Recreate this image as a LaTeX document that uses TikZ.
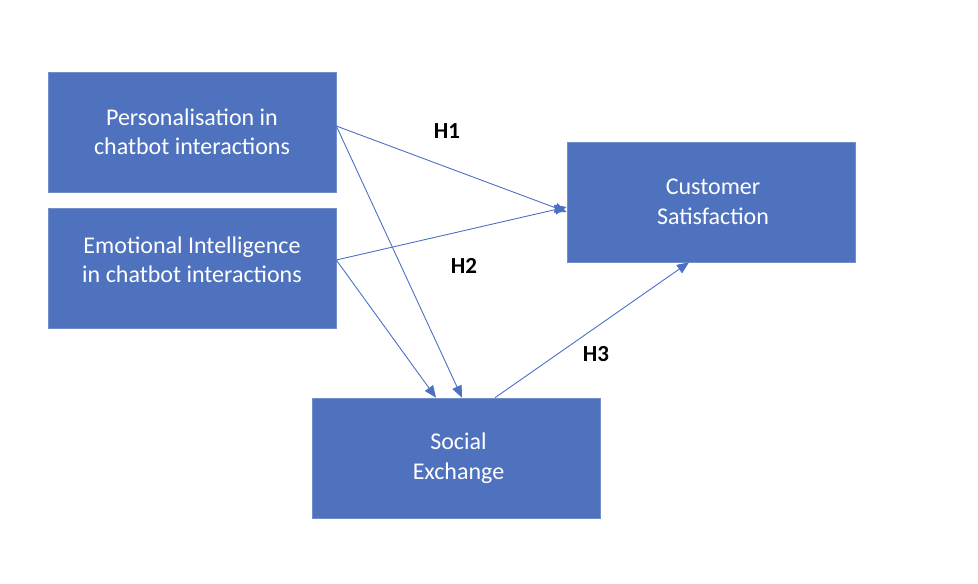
\documentclass[tikz,border=0pt]{standalone}
\usepackage{fontspec}
\setmainfont{Carlito}
\usetikzlibrary{arrows.meta}
\definecolor{boxblue}{RGB}{79,114,190}
\definecolor{arrowblue}{RGB}{76,112,196}
\begin{document}
\begin{tikzpicture}[x=1pt,y=1pt,
  boxtext/.style={text=white, align=center, font=\fontsize{24}{29.5}\selectfont},
  box/.style={boxtext, fill=boxblue, draw=boxblue!80!white, line width=0.6pt, minimum width=288pt, minimum height=120pt, inner sep=0pt},
  link/.style={draw=arrowblue, line width=0.9pt, -{Triangle[length=12pt,width=10pt]}},
  hlab/.style={font=\fontsize{23}{26}\selectfont\bfseries, text=black}]
\useasboundingbox (0,0) rectangle (978,584);
\node[box] (pers) at (192,452) {Personalisation in\\chatbot interactions};
\node[box] (emo) at (192,316) {};
\node[boxtext] (emotxt) at (192,324) {Emotional Intelligence\\in chatbot interactions};
\node[box] (cs) at (711,382) {\hspace*{4pt}Customer\\\hspace*{4pt}Satisfaction};
\node[box] (se) at (456,126) {\hspace*{5pt}Social\\\hspace*{5pt}Exchange};
\draw[link] ([yshift=6pt]pers.east) -- ([yshift=-10pt]cs.west);
\draw[link] ([yshift=6pt]pers.east) -- ([xshift=6pt]se.north);
\draw[link] ([yshift=8pt]emo.east) -- ([yshift=-5pt]cs.west);
\draw[link] ([yshift=8pt]emo.east) -- ([xshift=-20pt]se.north);
\draw[link] ([xshift=39pt]se.north) -- ([xshift=-22pt]cs.south);
\node[hlab] (h1) at (447,453) {H1};
\node[hlab] (h2) at (464,318) {H2};
\node[hlab] (h3) at (596,230) {H3};
\end{tikzpicture}
\end{document}
